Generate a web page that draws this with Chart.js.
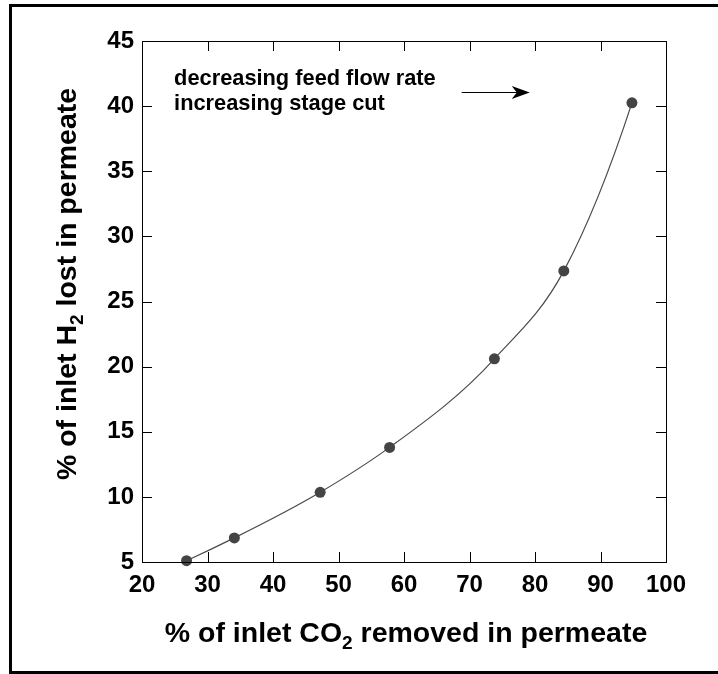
<!DOCTYPE html>
<html>
<head>
<meta charset="utf-8">
<script src="https://cdn.jsdelivr.net/npm/chart.js@4.4.1/dist/chart.umd.min.js"></script>
<style>
  html, body { margin: 0; padding: 0; background: #fff; }
  #wrap { position: relative; width: 718px; height: 674px; }
  canvas { display: block; }
</style>
</head>
<body>
<div id="wrap"><canvas id="c" width="718" height="674"></canvas></div>
<script>
// CO2 removed vs. H2 lost in the permeate, one point per feed flow rate
const co2Removed = [26.8, 34.1, 47.2, 57.8, 73.8, 84.4, 94.8];
const h2Lost     = [5.1, 6.85, 10.35, 13.8, 20.6, 27.35, 40.25];

const xTicks = [20, 30, 40, 50, 60, 70, 80, 90, 100];
const yTicks = [5, 10, 15, 20, 25, 30, 35, 40, 45];

const noteLines = ['decreasing feed flow rate', 'increasing stage cut'];
const noteAnchor = { x: 24.9, y: [41.6, 39.7] };
const arrowFrom = { x: 68.8, y: 41.07 };
const arrowTo   = { x: 79.2, y: 41.07 };

const FONT = '"Liberation Sans", Arial, Helvetica, sans-serif';

const points = co2Removed.map((x, i) => ({ x, y: h2Lost[i] }));

// Smooth curve through the measured points: cubic Hermite segments with
// three-point (parabolic) slopes, mapped to pixels through the chart scales.
function hermiteSlopes(xs, ys) {
  const n = xs.length, h = [], d = [], m = [];
  for (let i = 0; i < n - 1; i++) {
    h.push(xs[i + 1] - xs[i]);
    d.push((ys[i + 1] - ys[i]) / h[i]);
  }
  m[0] = d[0] - (d[1] - d[0]) * h[0] / (h[0] + h[1]);
  for (let i = 1; i < n - 1; i++) {
    m[i] = (h[i] * d[i - 1] + h[i - 1] * d[i]) / (h[i - 1] + h[i]);
  }
  m[n - 1] = d[n - 2] + (d[n - 2] - d[n - 3]) * h[n - 2] / (h[n - 3] + h[n - 2]);
  return m;
}

const fitCurve = {
  id: 'fitCurve',
  beforeDatasetsDraw(chart) {
    const { ctx, scales: { x: sx, y: sy } } = chart;
    const m = hermiteSlopes(co2Removed, h2Lost);
    ctx.save();
    ctx.strokeStyle = '#4a4a4a';
    ctx.lineWidth = 1.2;
    ctx.beginPath();
    ctx.moveTo(sx.getPixelForValue(co2Removed[0]), sy.getPixelForValue(h2Lost[0]));
    for (let i = 0; i < co2Removed.length - 1; i++) {
      const x0 = co2Removed[i], x1 = co2Removed[i + 1];
      const y0 = h2Lost[i], y1 = h2Lost[i + 1];
      const t = (x1 - x0) / 3;
      ctx.bezierCurveTo(
        sx.getPixelForValue(x0 + t), sy.getPixelForValue(y0 + m[i] * t),
        sx.getPixelForValue(x1 - t), sy.getPixelForValue(y1 - m[i + 1] * t),
        sx.getPixelForValue(x1), sy.getPixelForValue(y1));
    }
    ctx.stroke();
    ctx.restore();
  }
};

// Frame, inward ticks on all four sides, axis titles, note and arrow
const decorations = {
  id: 'decorations',
  afterDraw(chart) {
    const { ctx, chartArea: a, scales } = chart;
    const xs = scales.x, ys = scales.y;
    ctx.save();

    // plot box
    ctx.strokeStyle = '#000';
    ctx.lineWidth = 1;
    ctx.strokeRect(Math.round(a.left) + 0.5, Math.round(a.top) + 0.5,
                   Math.round(a.right - a.left), Math.round(a.bottom - a.top));

    // inward ticks
    const tl = 10;
    ctx.beginPath();
    xTicks.forEach(v => {
      const px = Math.round(xs.getPixelForValue(v)) + 0.5;
      ctx.moveTo(px, a.bottom); ctx.lineTo(px, a.bottom - tl);
      ctx.moveTo(px, a.top); ctx.lineTo(px, a.top + tl);
    });
    yTicks.forEach(v => {
      const py = Math.round(ys.getPixelForValue(v)) + 0.5;
      ctx.moveTo(a.left, py); ctx.lineTo(a.left + tl, py);
      ctx.moveTo(a.right, py); ctx.lineTo(a.right - tl, py);
    });
    ctx.stroke();

    // outer frame
    ctx.lineWidth = 3;
    ctx.strokeRect(10.5, 5.5, 730, 667);

    ctx.fillStyle = '#000';

    // x axis title with subscript
    drawSub(ctx, ['% of inlet CO', '2', ' removed in permeate'], 406, 642);
    // y axis title with subscript
    ctx.save();
    ctx.translate(76, 284);
    ctx.rotate(-Math.PI / 2);
    drawSub(ctx, ['% of inlet H', '2', ' lost in permeate'], 0, 0);
    ctx.restore();

    // note
    ctx.font = 'bold 21.8px ' + FONT;
    ctx.textAlign = 'left';
    ctx.textBaseline = 'alphabetic';
    noteLines.forEach((t, i) => {
      ctx.fillText(t, xs.getPixelForValue(noteAnchor.x), ys.getPixelForValue(noteAnchor.y[i]));
    });

    // arrow
    const x1 = xs.getPixelForValue(arrowFrom.x), x2 = xs.getPixelForValue(arrowTo.x);
    const ay = Math.round(ys.getPixelForValue(arrowFrom.y)) + 0.5;
    ctx.lineWidth = 1.2;
    ctx.beginPath();
    ctx.moveTo(x1, ay); ctx.lineTo(x2 - 8, ay);
    ctx.stroke();
    ctx.beginPath();
    ctx.moveTo(x2, ay);
    ctx.lineTo(x2 - 18, ay - 6.5);
    ctx.lineTo(x2 - 13, ay);
    ctx.lineTo(x2 - 18, ay + 6.5);
    ctx.closePath();
    ctx.fill();

    ctx.restore();
  }
};

function drawSub(ctx, parts, cx, baseline) {
  const big = 'bold 28.5px ' + FONT, small = 'bold 19px ' + FONT;
  ctx.textBaseline = 'alphabetic';
  ctx.textAlign = 'left';
  ctx.font = big; const w0 = ctx.measureText(parts[0]).width;
  ctx.font = small; const w1 = ctx.measureText(parts[1]).width;
  ctx.font = big; const w2 = ctx.measureText(parts[2]).width;
  let x = cx - (w0 + w1 + w2) / 2;
  ctx.font = big; ctx.fillText(parts[0], x, baseline); x += w0;
  ctx.font = small; ctx.fillText(parts[1], x, baseline + 7); x += w1;
  ctx.font = big; ctx.fillText(parts[2], x, baseline);
}

new Chart(document.getElementById('c'), {
  type: 'scatter',
  data: {
    datasets: [{
      data: points,
      showLine: false,
      pointRadius: 5.5,
      pointHoverRadius: 5.5,
      pointBackgroundColor: '#444',
      pointBorderWidth: 0,
      clip: false
    }]
  },
  options: {
    responsive: false,
    animation: false,
    devicePixelRatio: 1,
    layout: { padding: { left: 0, top: 41, right: 52, bottom: 0 } },
    plugins: { legend: { display: false }, tooltip: { enabled: false } },
    scales: {
      x: {
        type: 'linear', min: 20, max: 100,
        afterBuildTicks: s => { s.ticks = xTicks.map(v => ({ value: v })); },
        afterFit: s => { s.height = 112; },
        grid: { display: false, drawTicks: false },
        border: { display: false },
        ticks: { color: '#000', padding: 9, font: { family: FONT, size: 24, weight: 'bold' } }
      },
      y: {
        type: 'linear', min: 5, max: 45,
        afterBuildTicks: s => { s.ticks = yTicks.map(v => ({ value: v })); },
        afterFit: s => { s.width = 142; },
        grid: { display: false, drawTicks: false },
        border: { display: false },
        ticks: { color: '#000', padding: 8, font: { family: FONT, size: 24, weight: 'bold' } }
      }
    }
  },
  plugins: [fitCurve, decorations]
});
</script>
</body>
</html>
